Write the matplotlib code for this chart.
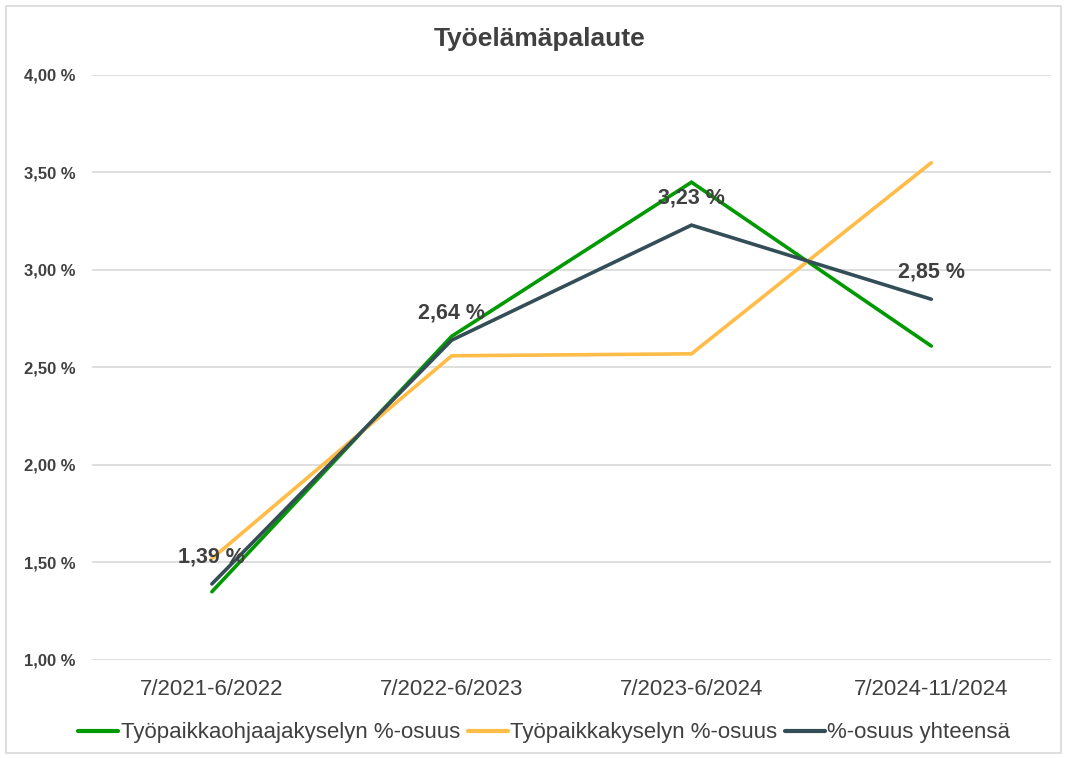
import matplotlib
matplotlib.use("Agg")
import matplotlib.pyplot as plt
from matplotlib.patches import Rectangle
from matplotlib.ticker import FuncFormatter

plt.rcParams['font.family'] = ['Liberation Sans', 'DejaVu Sans']

categories = ["7/2021-6/2022", "7/2022-6/2023", "7/2023-6/2024", "7/2024-11/2024"]
ohjaaja = [1.35, 2.66, 3.45, 2.61]
tyopaikka = [1.52, 2.56, 2.57, 3.55]
yhteensa = [1.39, 2.64, 3.23, 2.85]
series_names = ["Työpaikkaohjaajakyselyn %-osuus", "Työpaikkakyselyn %-osuus", "%-osuus yhteensä"]
colors = ["#009A00", "#FFBC47", "#344E57"]

fig = plt.figure(figsize=(10.67, 7.58), dpi=100)
ax = fig.add_axes([0.0862, 0.1293, 0.899, 0.7718])

x = list(range(len(categories)))
for vals, name, c in zip([ohjaaja, tyopaikka, yhteensa], series_names, colors):
    ax.plot(x, vals, color=c, lw=2.6, label=name, solid_capstyle='round', solid_joinstyle='miter')

for xi, v in zip(x, yhteensa):
    ax.annotate(f"{v:.2f} %".replace(".", ","), (xi, v), xytext=(0, 19.5), textcoords='offset points',
                ha='center', va='center', fontsize=15.5, fontweight='bold', color='#404040')

ax.set_xlim(-0.5, 3.5)
ax.set_ylim(1.0, 4.0)
ax.set_yticks([1.0, 1.5, 2.0, 2.5, 3.0, 3.5, 4.0])
ax.yaxis.set_major_formatter(FuncFormatter(lambda v, p: f"{v:.2f} %".replace(".", ",")))
ax.set_xticks(x)
ax.set_xticklabels(categories)
ax.tick_params(axis='x', length=0, labelsize=16, colors='#404040', pad=14)
ax.tick_params(axis='y', length=0, labelsize=12, colors='#404040', pad=12)
for lab in ax.get_yticklabels():
    lab.set_fontweight('bold')
ax.grid(axis='y', color='#D9D9D9', lw=1.2)
ax.set_axisbelow(True)
for s in ax.spines.values():
    s.set_visible(False)

fig.text(0.506, 0.948, "Työelämäpalaute", ha='center', va='center', fontsize=19,
         fontweight='bold', color='#404040')

leg = fig.legend(loc='center', bbox_to_anchor=(0.51, 0.033), ncol=3, frameon=False,
                 fontsize=16, handlelength=1.8, columnspacing=0.35, handletextpad=0.1,
                 labelcolor='#404040')
for h in leg.get_lines():
    h.set_linewidth(3)

fig.patches.append(Rectangle((0.006, 0.006), 0.988, 0.986, transform=fig.transFigure,
                             fill=False, edgecolor='#D9D9D9', lw=1.2))

fig.savefig("out.png", dpi=100, facecolor='white')
